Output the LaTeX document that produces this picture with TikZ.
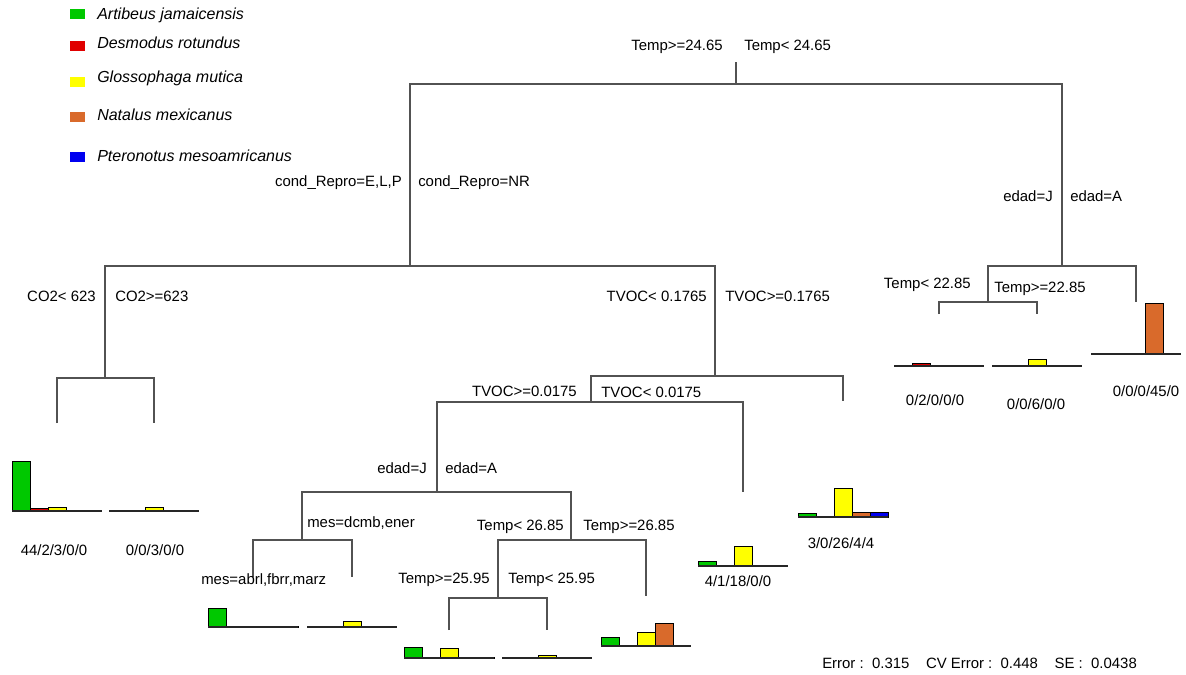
\documentclass[tikz,border=0pt]{standalone}
\usepackage{fontspec}
\setmainfont{Liberation Sans}
\definecolor{cA}{HTML}{00C800}
\definecolor{cD}{HTML}{E00000}
\definecolor{cG}{HTML}{FFFF00}
\definecolor{cN}{HTML}{D96A2B}
\definecolor{cP}{HTML}{0000F0}
\newcommand\leafhist[7]{%
  \foreach \n/\c [count=\i from 0] in {#3/cA,#4/cD,#5/cG,#6/cN,#7/cP}{%
    \ifnum\n>0
      \filldraw[fill=\c,draw=black,line width=0.45pt] ({#1-45+18*\i},#2) rectangle ++(18,{-1.12*\n});
    \fi}%
  \draw[black!85,line width=0.9pt] ({#1-45},#2) -- ({#1+45},#2);}
\begin{document}
\begin{tikzpicture}[x=0.75pt,y=-0.75pt,
  lab/.style={font=\fontsize{11.2}{12}\selectfont,inner sep=0pt},
  leg/.style={font=\fontsize{12}{14}\selectfont\itshape,inner sep=0pt,anchor=west},
  branch/.style={draw=black!68,line width=1pt}]
\useasboundingbox (0,0) rectangle (1186,675);
% legend
\foreach \y/\ty/\c/\t/\k in {13.5/15/cA/Artibeus jamaicensis/a,46/43/cD/Desmodus rotundus/b,82/78/cG/Glossophaga mutica/c,117/115/cN/Natalus mexicanus/d,157/156/cP/Pteronotus mesoamricanus/e}{
  \fill[\c] (70,\y-5) rectangle (85,\y+5);
  \node[leg] (leg\k) at (97,\ty) {\t};
}
% tree coordinates
\coordinate (top) at (736,62);
\coordinate (N0) at (736,84);
\coordinate (N1) at (410,266);
\coordinate (N2) at (1062,266);
\coordinate (N3) at (105,378);
\coordinate (N4) at (715,376);
\coordinate (L1) at (57,423);
\coordinate (L2) at (154,423);
\coordinate (N5) at (591,402);
\coordinate (L3) at (843,401);
\coordinate (N6) at (437,492);
\coordinate (L4) at (743,492);
\coordinate (N7) at (302,540);
\coordinate (N8) at (571,540);
\coordinate (L5) at (253,577);
\coordinate (L6) at (352,577);
\coordinate (N9) at (498,598);
\coordinate (L7) at (646,596);
\coordinate (L8) at (449,630);
\coordinate (L9) at (547,630);
\coordinate (N10) at (988,302);
\coordinate (L10) at (1136,302);
\coordinate (L11) at (939,314);
\coordinate (L12) at (1037,314);
% branches
\draw[branch] (top) -- (N0);
\draw[branch] (N1) |- (N0) -| (N2);
\draw[branch] (N3) |- (N1) -| (N4);
\draw[branch] (L1) |- (N3) -| (L2);
\draw[branch] (N5) |- (N4) -| (L3);
\draw[branch] (N6) |- (N5) -| (L4);
\draw[branch] (N7) |- (N6) -| (N8);
\draw[branch] (L5) |- (N7) -| (L6);
\draw[branch] (N9) |- (N8) -| (L7);
\draw[branch] (L8) |- (N9) -| (L9);
\draw[branch] (N10) |- (N2) -| (L10);
\draw[branch] (L11) |- (N10) -| (L12);
% split labels
\node[lab,anchor=east] (s0l) at (723,47) {Temp>=24.65};
\node[lab,anchor=west] (s0r) at (744,47) {Temp< 24.65};
\node[lab,anchor=east] (s1l) at (402,183) {cond\_Repro=E,L,P};
\node[lab,anchor=west] (s1r) at (418,183) {cond\_Repro=NR};
\node[lab,anchor=east] (s2l) at (1053,196) {edad=J};
\node[lab,anchor=west] (s2r) at (1070,196) {edad=A};
\node[lab,anchor=east] (s3l) at (96,296) {CO2< 623};
\node[lab,anchor=west] (s3r) at (115,296) {CO2>=623};
\node[lab,anchor=east] (s4l) at (707,296) {TVOC< 0.1765};
\node[lab,anchor=west] (s4r) at (725,296) {TVOC>=0.1765};
\node[lab,anchor=east] (s10l) at (971,285) {Temp< 22.85};
\node[lab,anchor=west] (s10r) at (994,289) {Temp>=22.85};
\node[lab,anchor=east] (s5l) at (577,391) {TVOC>=0.0175};
\node[lab,anchor=west] (s5r) at (601,392) {TVOC< 0.0175};
\node[lab,anchor=east] (s6l) at (427,468) {edad=J};
\node[lab,anchor=west] (s6r) at (445,468) {edad=A};
\node[lab,anchor=west] (s7r) at (307,523) {mes=dcmb,ener};
\node[lab,anchor=west] (s7l) at (201,580) {mes=abrl,fbrr,marz};
\node[lab,anchor=east] (s8l) at (564,527) {Temp< 26.85};
\node[lab,anchor=west] (s8r) at (583,527) {Temp>=26.85};
\node[lab,anchor=east] (s9l) at (490,580) {Temp>=25.95};
\node[lab,anchor=west] (s9r) at (508,580) {Temp< 25.95};
% leaf histograms
\leafhist{57}{511}{44}{2}{3}{0}{0}
\leafhist{154}{511}{0}{0}{3}{0}{0}
\leafhist{939}{366}{0}{2}{0}{0}{0}
\leafhist{1037}{366}{0}{0}{6}{0}{0}
\leafhist{1136}{354}{0}{0}{0}{45}{0}
\leafhist{843}{517}{3}{0}{26}{4}{4}
\leafhist{743}{566}{4}{1}{18}{0}{0}
\leafhist{253}{627}{17}{0}{0}{0}{1}
\leafhist{352}{627}{0}{0}{5}{0}{0}
\leafhist{646}{646}{8}{0}{12}{20}{0}
\leafhist{449}{658}{10}{1}{9}{0}{1}
\leafhist{547}{658}{1}{0}{2}{0}{0}
% leaf labels
\node[lab] (f1) at (54,550) {44/2/3/0/0};
\node[lab] (f2) at (155,550) {0/0/3/0/0};
\node[lab] (f11) at (935,400) {0/2/0/0/0};
\node[lab] (f12) at (1036,404) {0/0/6/0/0};
\node[lab] (f10) at (1146,391) {0/0/0/45/0};
\node[lab] (f3) at (841,543) {3/0/26/4/4};
\node[lab] (f4) at (738,581) {4/1/18/0/0};
% error text
\node[lab,anchor=west] (err) at (822,663) {Error :\ \ 0.315\ \ \ \ CV Error :\ \ 0.448\ \ \ \ SE :\ \ 0.0438};
\end{tikzpicture}
\end{document}
